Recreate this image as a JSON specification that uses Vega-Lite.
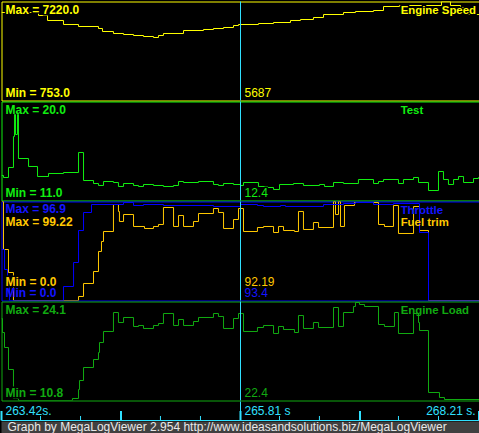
{
  "$schema": "https://vega.github.io/schema/vega-lite/v6.json",
  "background": "black",
  "padding": {"left": 0.5, "top": 0.5, "right": 0, "bottom": 0},
  "spacing": 1,
  "bounds": "flush",
  "config": {"view": {"stroke": null}, "text": {"font": "Liberation Sans", "fontSize": 12}},
  "datasets": {
    "rpm": [{"t":263.420,"v":6501.4},{"t":263.791,"v":6305.5},{"t":263.881,"v":5978.9},{"t":264.041,"v":5717.6},{"t":264.192,"v":5586.9},{"t":264.392,"v":5456.3},{"t":264.432,"v":5260.3},{"t":264.542,"v":5129.7},{"t":264.643,"v":5064.3},{"t":264.743,"v":4999.0},{"t":264.843,"v":4933.7},{"t":264.943,"v":4868.4},{"t":264.993,"v":4999.0},{"t":265.043,"v":5129.7},{"t":265.244,"v":5325.6},{"t":265.444,"v":5391.0},{"t":265.544,"v":5456.3},{"t":265.645,"v":5521.6},{"t":265.745,"v":5652.2},{"t":265.795,"v":5717.6},{"t":265.995,"v":5782.9},{"t":266.146,"v":5848.2},{"t":266.316,"v":5978.9},{"t":266.416,"v":6044.2},{"t":266.546,"v":6174.8},{"t":266.647,"v":6370.8},{"t":266.847,"v":6501.4},{"t":266.967,"v":6566.8},{"t":267.148,"v":6632.1},{"t":267.248,"v":6893.4},{"t":267.408,"v":6958.7},{"t":267.829,"v":7220},{"t":267.919,"v":6958.7},{"t":268.020,"v":6828.1},{"t":268.060,"v":6370.8},{"t":268.210,"v":6370.8}],
    "test": [{"t":263.420,"v":13.273},{"t":263.440,"v":13.091},{"t":263.490,"v":14.0},{"t":263.540,"v":16.818},{"t":263.550,"v":18.818},{"t":263.560,"v":17.0},{"t":263.580,"v":18.818},{"t":263.590,"v":14.818},{"t":263.691,"v":14.091},{"t":263.781,"v":13.182},{"t":263.891,"v":13.455},{"t":264.041,"v":13.545},{"t":264.192,"v":15.364},{"t":264.242,"v":12.818},{"t":264.342,"v":12.545},{"t":264.392,"v":12.364},{"t":264.442,"v":12.727},{"t":264.542,"v":12.636},{"t":264.592,"v":12.273},{"t":264.643,"v":12.545},{"t":264.743,"v":12.364},{"t":264.793,"v":12.273},{"t":264.843,"v":12.455},{"t":264.943,"v":12.364},{"t":265.043,"v":12.273},{"t":265.144,"v":12.364},{"t":265.194,"v":12.727},{"t":265.244,"v":12.636},{"t":265.394,"v":12.727},{"t":265.544,"v":12.455},{"t":265.594,"v":12.364},{"t":265.645,"v":12.545},{"t":265.745,"v":12.455},{"t":265.815,"v":12.364},{"t":265.845,"v":12.636},{"t":265.995,"v":12.273},{"t":266.086,"v":12.182},{"t":266.146,"v":12.0},{"t":266.206,"v":12.455},{"t":266.346,"v":12.545},{"t":266.446,"v":12.364},{"t":266.607,"v":12.455},{"t":266.657,"v":12.273},{"t":266.747,"v":12.636},{"t":266.847,"v":12.545},{"t":266.997,"v":12.909},{"t":267.148,"v":12.545},{"t":267.198,"v":12.727},{"t":267.248,"v":12.909},{"t":267.398,"v":12.545},{"t":267.448,"v":12.909},{"t":267.549,"v":13.091},{"t":267.599,"v":12.636},{"t":267.699,"v":11.909},{"t":267.799,"v":13.636},{"t":267.849,"v":12.909},{"t":267.899,"v":12.455},{"t":267.950,"v":12.909},{"t":268.000,"v":13.182},{"t":268.050,"v":12.636},{"t":268.150,"v":13.0},{"t":268.200,"v":13.091},{"t":268.210,"v":13.091}],
    "throttle": [{"t":263.420,"v":49.92},{"t":263.450,"v":30.34},{"t":263.480,"v":14.68},{"t":263.500,"v":0},{"t":264.041,"v":13.70},{"t":264.142,"v":37.19},{"t":264.192,"v":68.52},{"t":264.242,"v":86.13},{"t":264.322,"v":93.96},{"t":264.643,"v":95.92},{"t":264.743,"v":92.98},{"t":264.843,"v":93.96},{"t":265.043,"v":92.98},{"t":265.544,"v":92.01},{"t":265.815,"v":93.96},{"t":265.985,"v":92.98},{"t":266.046,"v":92.01},{"t":266.216,"v":92.98},{"t":266.266,"v":92.01},{"t":266.647,"v":93.96},{"t":266.847,"v":94.94},{"t":266.967,"v":95.92},{"t":267.148,"v":93.96},{"t":267.348,"v":94.94},{"t":267.609,"v":66.56},{"t":267.699,"v":0},{"t":268.210,"v":0}],
    "fuel": [{"t":263.420,"v":99.22},{"t":263.440,"v":51.11},{"t":263.490,"v":28.06},{"t":263.540,"v":0},{"t":264.192,"v":4.01},{"t":264.242,"v":17.04},{"t":264.342,"v":29.06},{"t":264.392,"v":49.11},{"t":264.422,"v":59.13},{"t":264.442,"v":69.15},{"t":264.542,"v":96.21},{"t":264.592,"v":89.2},{"t":264.602,"v":79.18},{"t":264.643,"v":86.19},{"t":264.743,"v":74.17},{"t":264.853,"v":72.16},{"t":264.943,"v":74.17},{"t":264.993,"v":76.17},{"t":265.043,"v":93.21},{"t":265.144,"v":74.17},{"t":265.194,"v":85.19},{"t":265.244,"v":74.17},{"t":265.344,"v":79.18},{"t":265.394,"v":87.19},{"t":265.544,"v":92.2},{"t":265.594,"v":88.2},{"t":265.645,"v":72.16},{"t":265.745,"v":81.18},{"t":265.795,"v":92.2},{"t":265.845,"v":69.15},{"t":265.985,"v":73.16},{"t":266.046,"v":74.17},{"t":266.146,"v":68.15},{"t":266.196,"v":74.17},{"t":266.246,"v":70.16},{"t":266.356,"v":69.15},{"t":266.396,"v":89.2},{"t":266.446,"v":71.16},{"t":266.546,"v":78.17},{"t":266.597,"v":73.16},{"t":266.747,"v":99.22},{"t":266.767,"v":86.19},{"t":266.797,"v":99.22},{"t":266.817,"v":74.17},{"t":266.857,"v":95.21},{"t":266.957,"v":98.22},{"t":267.198,"v":76.17},{"t":267.258,"v":74.17},{"t":267.348,"v":95.21},{"t":267.398,"v":67.15},{"t":267.549,"v":94.21},{"t":267.609,"v":70.16},{"t":267.699,"v":0},{"t":268.210,"v":0}],
    "load": [{"t":263.420,"v":21.816},{"t":263.430,"v":19.935},{"t":263.450,"v":17.920},{"t":263.490,"v":14.965},{"t":263.540,"v":11.069},{"t":263.590,"v":10.8},{"t":264.131,"v":11.069},{"t":264.192,"v":12.278},{"t":264.202,"v":13.487},{"t":264.242,"v":15.233},{"t":264.342,"v":16.308},{"t":264.392,"v":17.249},{"t":264.402,"v":18.592},{"t":264.442,"v":20.070},{"t":264.542,"v":22.622},{"t":264.592,"v":21.279},{"t":264.643,"v":21.951},{"t":264.743,"v":20.741},{"t":264.793,"v":20.876},{"t":264.843,"v":20.473},{"t":264.943,"v":20.876},{"t":264.993,"v":21.144},{"t":265.043,"v":22.488},{"t":265.144,"v":20.876},{"t":265.194,"v":21.682},{"t":265.244,"v":20.876},{"t":265.344,"v":21.413},{"t":265.394,"v":21.951},{"t":265.544,"v":22.488},{"t":265.594,"v":22.085},{"t":265.645,"v":20.473},{"t":265.745,"v":21.816},{"t":265.795,"v":22.488},{"t":265.845,"v":20.070},{"t":265.985,"v":20.607},{"t":266.046,"v":20.876},{"t":266.146,"v":19.801},{"t":266.196,"v":20.741},{"t":266.246,"v":20.338},{"t":266.356,"v":19.935},{"t":266.396,"v":22.219},{"t":266.446,"v":20.473},{"t":266.546,"v":21.279},{"t":266.597,"v":20.607},{"t":266.747,"v":23.294},{"t":266.797,"v":20.741},{"t":266.847,"v":22.622},{"t":266.947,"v":23.428},{"t":266.967,"v":23.966},{"t":267.008,"v":23.697},{"t":267.058,"v":23.428},{"t":267.198,"v":21.010},{"t":267.258,"v":20.741},{"t":267.358,"v":22.622},{"t":267.398,"v":19.801},{"t":267.549,"v":22.488},{"t":267.599,"v":21.279},{"t":267.609,"v":20.204},{"t":267.699,"v":11.875},{"t":267.809,"v":11.203},{"t":267.859,"v":10.934},{"t":268.210,"v":10.934}],
    "ticks": [{"t":263.420,"kind":"major"},{"t":263.811,"kind":"minor"},{"t":264.212,"kind":"minor"},{"t":264.6175,"kind":"major"},{"t":265.013,"kind":"minor"},{"t":265.414,"kind":"minor"},{"t":265.815,"kind":"major"},{"t":266.206,"kind":"minor"},{"t":266.606,"kind":"minor"},{"t":267.0125,"kind":"major"},{"t":267.398,"kind":"minor"},{"t":267.799,"kind":"minor"},{"t":268.205,"kind":"major"}],
    "ticklabels": [{"t":263.42,"label":"263.42s.","side":"left"},{"t":265.815,"label":"265.81 s","side":"left"},{"t":268.21,"label":"268.21 s.","side":"right"}],
    "one": [{"id":1}]
  },
  "vconcat": [
    {
      "width": 478, "height": 99,
      "view": {"stroke": "#ffff00", "strokeWidth": 1},
      "layer": [
        {"data": {"name": "rpm"}, "mark": {"type": "line", "interpolate": "step-after", "color": "#ffff00", "strokeWidth": 1, "clip": true},
         "encoding": {"x": {"field": "t", "type": "quantitative", "scale": {"domain": [263.42, 268.21]}, "axis": null},
                      "y": {"field": "v", "type": "quantitative", "scale": {"domain": [753, 7220]}, "axis": null}}},
        {"data": {"name": "one"}, "mark": {"type": "text", "text": "Max = 7220.0", "align": "left", "baseline": "alphabetic", "dx": 4, "dy": 12, "fontWeight": "bold", "color": "black", "stroke": "black", "strokeWidth": 3},
         "encoding": {"x": {"datum": 263.42, "type": "quantitative", "scale": {"domain": [263.42, 268.21]}, "axis": null}, "y": {"datum": 7220, "type": "quantitative", "scale": {"domain": [753, 7220]}, "axis": null}}},
        {"data": {"name": "one"}, "mark": {"type": "text", "text": "Engine Speed", "align": "left", "baseline": "alphabetic", "dy": 12, "fontSize": 11.4, "fontWeight": "bold", "color": "black", "stroke": "black", "strokeWidth": 3},
         "encoding": {"x": {"datum": 267.42, "type": "quantitative", "scale": {"domain": [263.42, 268.21]}, "axis": null}, "y": {"datum": 7220, "type": "quantitative", "scale": {"domain": [753, 7220]}, "axis": null}}},
        {"data": {"name": "one"}, "mark": {"type": "text", "text": "Max = 7220.0", "align": "left", "baseline": "alphabetic", "dx": 4, "dy": 12, "fontWeight": "bold", "color": "#ffff00"},
         "encoding": {"x": {"datum": 263.42, "type": "quantitative", "scale": {"domain": [263.42, 268.21]}, "axis": null}, "y": {"datum": 7220, "type": "quantitative", "scale": {"domain": [753, 7220]}, "axis": null}}},
        {"data": {"name": "one"}, "mark": {"type": "text", "text": "Min = 753.0", "align": "left", "baseline": "alphabetic", "dx": 4, "dy": -4, "fontWeight": "bold", "color": "#ffff00"},
         "encoding": {"x": {"datum": 263.42, "type": "quantitative", "scale": {"domain": [263.42, 268.21]}, "axis": null}, "y": {"datum": 753, "type": "quantitative", "scale": {"domain": [753, 7220]}, "axis": null}}},
        {"data": {"name": "one"}, "mark": {"type": "text", "text": "Engine Speed", "align": "left", "baseline": "alphabetic", "dy": 12, "fontSize": 11.4, "fontWeight": "bold", "color": "#ffff00"},
         "encoding": {"x": {"datum": 267.42, "type": "quantitative", "scale": {"domain": [263.42, 268.21]}, "axis": null}, "y": {"datum": 7220, "type": "quantitative", "scale": {"domain": [753, 7220]}, "axis": null}}},
        {"data": {"name": "one"}, "mark": {"type": "text", "text": "5687", "align": "left", "baseline": "alphabetic", "dx": 4, "dy": -4, "color": "#ffff00"},
         "encoding": {"x": {"datum": 265.815, "type": "quantitative", "scale": {"domain": [263.42, 268.21]}, "axis": null}, "y": {"datum": 753, "type": "quantitative", "scale": {"domain": [753, 7220]}, "axis": null}}},
        {"data": {"name": "one"}, "mark": {"type": "rule", "color": "#30e0ff", "strokeWidth": 1},
         "encoding": {"x": {"datum": 265.815, "type": "quantitative", "scale": {"domain": [263.42, 268.21]}, "axis": null}}}
      ]
    },
    {
      "width": 478, "height": 99,
      "view": {"stroke": "#11ee11", "strokeWidth": 1},
      "layer": [
        {"data": {"name": "test"}, "mark": {"type": "line", "interpolate": "step-after", "color": "#11ee11", "strokeWidth": 1, "clip": true},
         "encoding": {"x": {"field": "t", "type": "quantitative", "scale": {"domain": [263.42, 268.21]}, "axis": null},
                      "y": {"field": "v", "type": "quantitative", "scale": {"domain": [11, 20]}, "axis": null}}},
        {"data": {"name": "one"}, "mark": {"type": "text", "text": "12.4", "align": "left", "baseline": "alphabetic", "dx": 4, "dy": -4, "color": "black", "stroke": "black", "strokeWidth": 3},
         "encoding": {"x": {"datum": 265.815, "type": "quantitative", "scale": {"domain": [263.42, 268.21]}, "axis": null}, "y": {"datum": 11, "type": "quantitative", "scale": {"domain": [11, 20]}, "axis": null}}},
        {"data": {"name": "one"}, "mark": {"type": "text", "text": "Max = 20.0", "align": "left", "baseline": "alphabetic", "dx": 4, "dy": 12, "fontWeight": "bold", "color": "#11ee11"},
         "encoding": {"x": {"datum": 263.42, "type": "quantitative", "scale": {"domain": [263.42, 268.21]}, "axis": null}, "y": {"datum": 20, "type": "quantitative", "scale": {"domain": [11, 20]}, "axis": null}}},
        {"data": {"name": "one"}, "mark": {"type": "text", "text": "Min = 11.0", "align": "left", "baseline": "alphabetic", "dx": 4, "dy": -4, "fontWeight": "bold", "color": "#11ee11"},
         "encoding": {"x": {"datum": 263.42, "type": "quantitative", "scale": {"domain": [263.42, 268.21]}, "axis": null}, "y": {"datum": 11, "type": "quantitative", "scale": {"domain": [11, 20]}, "axis": null}}},
        {"data": {"name": "one"}, "mark": {"type": "text", "text": "Test", "align": "left", "baseline": "alphabetic", "dy": 12, "fontSize": 11.4, "fontWeight": "bold", "color": "#11ee11"},
         "encoding": {"x": {"datum": 267.42, "type": "quantitative", "scale": {"domain": [263.42, 268.21]}, "axis": null}, "y": {"datum": 20, "type": "quantitative", "scale": {"domain": [11, 20]}, "axis": null}}},
        {"data": {"name": "one"}, "mark": {"type": "text", "text": "12.4", "align": "left", "baseline": "alphabetic", "dx": 4, "dy": -4, "color": "#11ee11"},
         "encoding": {"x": {"datum": 265.815, "type": "quantitative", "scale": {"domain": [263.42, 268.21]}, "axis": null}, "y": {"datum": 11, "type": "quantitative", "scale": {"domain": [11, 20]}, "axis": null}}},
        {"data": {"name": "one"}, "mark": {"type": "rule", "color": "#30e0ff", "strokeWidth": 1},
         "encoding": {"x": {"datum": 265.815, "type": "quantitative", "scale": {"domain": [263.42, 268.21]}, "axis": null}}}
      ]
    },
    {
      "width": 478, "height": 99,
      "view": {"stroke": "#0000ff", "strokeWidth": 1},
      "resolve": {"scale": {"y": "independent"}},
      "layer": [
        {"data": {"name": "fuel"}, "mark": {"type": "line", "interpolate": "step-after", "color": "#ffc800", "strokeWidth": 1, "clip": true},
         "encoding": {"x": {"field": "t", "type": "quantitative", "scale": {"domain": [263.42, 268.21]}, "axis": null},
                      "y": {"field": "v", "type": "quantitative", "scale": {"domain": [0, 99.22]}, "axis": null}}},
        {"data": {"name": "throttle"}, "mark": {"type": "line", "interpolate": "step-after", "color": "#0000ff", "strokeWidth": 1, "clip": true},
         "encoding": {"x": {"field": "t", "type": "quantitative", "scale": {"domain": [263.42, 268.21]}, "axis": null},
                      "y": {"field": "v", "type": "quantitative", "scale": {"domain": [0, 96.9]}, "axis": null}}},
        {"data": {"name": "one"}, "mark": {"type": "text", "text": "Max = 99.22", "align": "left", "baseline": "alphabetic", "dx": 4, "dy": 24, "fontWeight": "bold", "color": "black", "stroke": "black", "strokeWidth": 3},
         "encoding": {"x": {"datum": 263.42, "type": "quantitative", "scale": {"domain": [263.42, 268.21]}, "axis": null}, "y": {"datum": 99.22, "type": "quantitative", "scale": {"domain": [0, 99.22]}, "axis": null}}},
        {"data": {"name": "one"}, "mark": {"type": "text", "text": "Min = 0.0", "align": "left", "baseline": "alphabetic", "dx": 4, "dy": -15, "fontWeight": "bold", "color": "black", "stroke": "black", "strokeWidth": 3},
         "encoding": {"x": {"datum": 263.42, "type": "quantitative", "scale": {"domain": [263.42, 268.21]}, "axis": null}, "y": {"datum": 0, "type": "quantitative", "scale": {"domain": [0, 99.22]}, "axis": null}}},
        {"data": {"name": "one"}, "mark": {"type": "text", "text": "Max = 96.9", "align": "left", "baseline": "alphabetic", "dx": 4, "dy": 11, "fontWeight": "bold", "color": "#1414ff"},
         "encoding": {"x": {"datum": 263.42, "type": "quantitative", "scale": {"domain": [263.42, 268.21]}, "axis": null}, "y": {"datum": 96.9, "type": "quantitative", "scale": {"domain": [0, 96.9]}, "axis": null}}},
        {"data": {"name": "one"}, "mark": {"type": "text", "text": "Max = 99.22", "align": "left", "baseline": "alphabetic", "dx": 4, "dy": 24, "fontWeight": "bold", "color": "#ffc800"},
         "encoding": {"x": {"datum": 263.42, "type": "quantitative", "scale": {"domain": [263.42, 268.21]}, "axis": null}, "y": {"datum": 99.22, "type": "quantitative", "scale": {"domain": [0, 99.22]}, "axis": null}}},
        {"data": {"name": "one"}, "mark": {"type": "text", "text": "Min = 0.0", "align": "left", "baseline": "alphabetic", "dx": 4, "dy": -15, "fontWeight": "bold", "color": "#ffc800"},
         "encoding": {"x": {"datum": 263.42, "type": "quantitative", "scale": {"domain": [263.42, 268.21]}, "axis": null}, "y": {"datum": 0, "type": "quantitative", "scale": {"domain": [0, 99.22]}, "axis": null}}},
        {"data": {"name": "one"}, "mark": {"type": "text", "text": "Min = 0.0", "align": "left", "baseline": "alphabetic", "dx": 4, "dy": -4, "fontWeight": "bold", "color": "#1414ff"},
         "encoding": {"x": {"datum": 263.42, "type": "quantitative", "scale": {"domain": [263.42, 268.21]}, "axis": null}, "y": {"datum": 0, "type": "quantitative", "scale": {"domain": [0, 96.9]}, "axis": null}}},
        {"data": {"name": "one"}, "mark": {"type": "text", "text": "Throttle", "align": "left", "baseline": "alphabetic", "dy": 12, "fontSize": 11.4, "fontWeight": "bold", "color": "#1414ff"},
         "encoding": {"x": {"datum": 267.42, "type": "quantitative", "scale": {"domain": [263.42, 268.21]}, "axis": null}, "y": {"datum": 96.9, "type": "quantitative", "scale": {"domain": [0, 96.9]}, "axis": null}}},
        {"data": {"name": "one"}, "mark": {"type": "text", "text": "Fuel trim", "align": "left", "baseline": "alphabetic", "dy": 24, "fontSize": 11.4, "fontWeight": "bold", "color": "#ffc800"},
         "encoding": {"x": {"datum": 267.42, "type": "quantitative", "scale": {"domain": [263.42, 268.21]}, "axis": null}, "y": {"datum": 99.22, "type": "quantitative", "scale": {"domain": [0, 99.22]}, "axis": null}}},
        {"data": {"name": "one"}, "mark": {"type": "text", "text": "92.19", "align": "left", "baseline": "alphabetic", "dx": 4, "dy": -15, "color": "#ffc800"},
         "encoding": {"x": {"datum": 265.815, "type": "quantitative", "scale": {"domain": [263.42, 268.21]}, "axis": null}, "y": {"datum": 0, "type": "quantitative", "scale": {"domain": [0, 99.22]}, "axis": null}}},
        {"data": {"name": "one"}, "mark": {"type": "text", "text": "93.4", "align": "left", "baseline": "alphabetic", "dx": 4, "dy": -4, "color": "#1414ff"},
         "encoding": {"x": {"datum": 265.815, "type": "quantitative", "scale": {"domain": [263.42, 268.21]}, "axis": null}, "y": {"datum": 0, "type": "quantitative", "scale": {"domain": [0, 96.9]}, "axis": null}}},
        {"data": {"name": "one"}, "mark": {"type": "rule", "color": "#30e0ff", "strokeWidth": 1},
         "encoding": {"x": {"datum": 265.815, "type": "quantitative", "scale": {"domain": [263.42, 268.21]}, "axis": null}}}
      ]
    },
    {
      "width": 478, "height": 99,
      "view": {"stroke": "#11aa11", "strokeWidth": 1},
      "layer": [
        {"data": {"name": "load"}, "mark": {"type": "line", "interpolate": "step-after", "color": "#11aa11", "strokeWidth": 1, "clip": true},
         "encoding": {"x": {"field": "t", "type": "quantitative", "scale": {"domain": [263.42, 268.21]}, "axis": null},
                      "y": {"field": "v", "type": "quantitative", "scale": {"domain": [10.8, 24.1]}, "axis": null}}},
        {"data": {"name": "one"}, "mark": {"type": "text", "text": "Min = 10.8", "align": "left", "baseline": "alphabetic", "dx": 4, "dy": -4, "fontWeight": "bold", "color": "black", "stroke": "black", "strokeWidth": 3},
         "encoding": {"x": {"datum": 263.42, "type": "quantitative", "scale": {"domain": [263.42, 268.21]}, "axis": null}, "y": {"datum": 10.8, "type": "quantitative", "scale": {"domain": [10.8, 24.1]}, "axis": null}}},
        {"data": {"name": "one"}, "mark": {"type": "text", "text": "Max = 24.1", "align": "left", "baseline": "alphabetic", "dx": 4, "dy": 12, "fontWeight": "bold", "color": "#11aa11"},
         "encoding": {"x": {"datum": 263.42, "type": "quantitative", "scale": {"domain": [263.42, 268.21]}, "axis": null}, "y": {"datum": 24.1, "type": "quantitative", "scale": {"domain": [10.8, 24.1]}, "axis": null}}},
        {"data": {"name": "one"}, "mark": {"type": "text", "text": "Min = 10.8", "align": "left", "baseline": "alphabetic", "dx": 4, "dy": -4, "fontWeight": "bold", "color": "#11aa11"},
         "encoding": {"x": {"datum": 263.42, "type": "quantitative", "scale": {"domain": [263.42, 268.21]}, "axis": null}, "y": {"datum": 10.8, "type": "quantitative", "scale": {"domain": [10.8, 24.1]}, "axis": null}}},
        {"data": {"name": "one"}, "mark": {"type": "text", "text": "Engine Load", "align": "left", "baseline": "alphabetic", "dy": 12, "fontSize": 11.4, "fontWeight": "bold", "color": "#11aa11"},
         "encoding": {"x": {"datum": 267.42, "type": "quantitative", "scale": {"domain": [263.42, 268.21]}, "axis": null}, "y": {"datum": 24.1, "type": "quantitative", "scale": {"domain": [10.8, 24.1]}, "axis": null}}},
        {"data": {"name": "one"}, "mark": {"type": "text", "text": "22.4", "align": "left", "baseline": "alphabetic", "dx": 4, "dy": -4, "color": "#11aa11"},
         "encoding": {"x": {"datum": 265.815, "type": "quantitative", "scale": {"domain": [263.42, 268.21]}, "axis": null}, "y": {"datum": 10.8, "type": "quantitative", "scale": {"domain": [10.8, 24.1]}, "axis": null}}},
        {"data": {"name": "one"}, "mark": {"type": "rule", "color": "#30e0ff", "strokeWidth": 1},
         "encoding": {"x": {"datum": 265.815, "type": "quantitative", "scale": {"domain": [263.42, 268.21]}, "axis": null}}}
      ]
    },
    {
      "width": 478, "height": 19,
      "layer": [
        {"data": {"name": "ticks"}, "transform": [{"filter": "datum.kind === 'minor'"}], "mark": {"type": "rule", "color": "#30e0ff", "strokeWidth": 1},
         "encoding": {"x": {"field": "t", "type": "quantitative", "scale": {"domain": [263.42, 268.21]}, "axis": null},
                      "y": {"datum": 0, "type": "quantitative", "scale": {"domain": [0, 1]}, "axis": null}, "y2": {"datum": 0.237}}},
        {"data": {"name": "ticks"}, "transform": [{"filter": "datum.kind === 'major'"}], "mark": {"type": "rule", "color": "#30e0ff", "strokeWidth": 2},
         "encoding": {"x": {"field": "t", "type": "quantitative", "scale": {"domain": [263.42, 268.21]}, "axis": null},
                      "y": {"datum": 0, "type": "quantitative", "scale": {"domain": [0, 1]}, "axis": null}, "y2": {"datum": 0.5}}},
        {"data": {"name": "one"}, "mark": {"type": "rule", "color": "#30e0ff", "strokeWidth": 1},
         "encoding": {"y": {"datum": 0, "type": "quantitative", "scale": {"domain": [0, 1]}, "axis": null}}},
        {"data": {"name": "one"}, "mark": {"type": "rule", "color": "#30e0ff", "strokeWidth": 1},
         "encoding": {"x": {"datum": 265.815, "type": "quantitative", "scale": {"domain": [263.42, 268.21]}, "axis": null}}},
        {"data": {"name": "ticklabels"}, "transform": [{"filter": "datum.side === 'left'"}], "mark": {"type": "text", "align": "left", "baseline": "alphabetic", "dx": 4, "dy": 13, "color": "#30e0ff"},
         "encoding": {"x": {"field": "t", "type": "quantitative", "scale": {"domain": [263.42, 268.21]}, "axis": null},
                      "y": {"datum": 1, "type": "quantitative", "scale": {"domain": [0, 1]}, "axis": null}, "text": {"field": "label"}}},
        {"data": {"name": "ticklabels"}, "transform": [{"filter": "datum.side === 'right'"}], "mark": {"type": "text", "align": "right", "baseline": "alphabetic", "dx": -4, "dy": 13, "color": "#30e0ff"},
         "encoding": {"x": {"field": "t", "type": "quantitative", "scale": {"domain": [263.42, 268.21]}, "axis": null},
                      "y": {"datum": 1, "type": "quantitative", "scale": {"domain": [0, 1]}, "axis": null}, "text": {"field": "label"}}}
      ]
    },
    {
      "width": 479, "height": 13,
      "view": {"fill": "#404040", "stroke": null},
      "data": {"name": "one"},
      "mark": {"type": "text", "text": "Graph by MegaLogViewer 2.954 http://www.ideasandsolutions.biz/MegaLogViewer", "align": "left", "baseline": "alphabetic", "dx": 6, "dy": 3, "color": "#e8e8e8"},
      "encoding": {"x": {"datum": 263.42, "type": "quantitative", "scale": {"domain": [263.42, 268.21]}, "axis": null}}
    }
  ]
}
